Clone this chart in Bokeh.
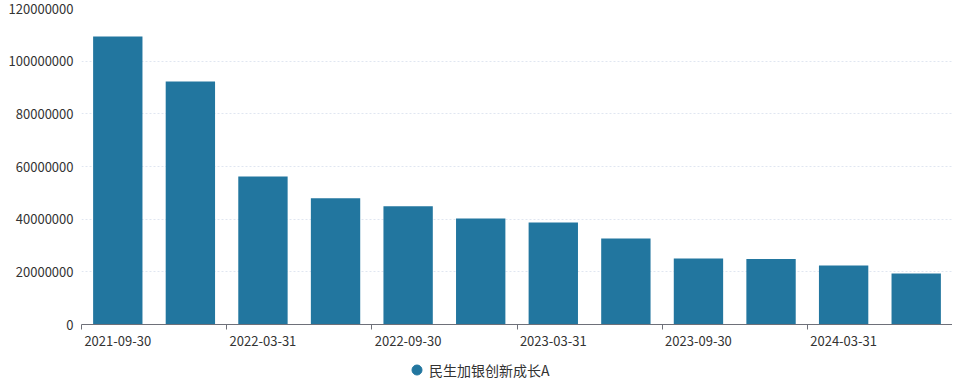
from bokeh.plotting import figure
from bokeh.layouts import column
from bokeh.models import FixedTicker, BasicTickFormatter, Range1d, Legend, LegendItem, ColumnDataSource
from bokeh.embed import file_html
from bokeh.resources import INLINE

dates = ["2021-09-30", "2021-12-31", "2022-03-31", "2022-06-30", "2022-09-30", "2022-12-31",
         "2023-03-31", "2023-06-30", "2023-09-30", "2023-12-31", "2024-03-31", "2024-06-30"]
values = [109400000, 92300000, 56200000, 47900000, 44900000, 40300000,
          38700000, 32700000, 25100000, 24900000, 22400000, 19400000]
series_name = "民生加银创新成长A"
y_ticks = [0, 20000000, 40000000, 60000000, 80000000, 100000000, 120000000]

FONT = "Noto Sans CJK SC"
BAR = "#22769F"
W = 952

xs = list(range(len(dates)))
src = ColumnDataSource(dict(x=xs, top=values))

p = figure(width=W, height=348, output_backend="svg", toolbar_location=None,
           x_range=Range1d(-0.5, len(dates) - 0.5), y_range=Range1d(0, 120000000),
           min_border_left=81, min_border_right=0, min_border_top=8, min_border_bottom=24)
p.outline_line_color = None

p.vbar(x="x", top="top", width=0.68, source=src, fill_color=BAR, line_color=None)

# x axis
label_ticks = xs[::2]
xa = p.xaxis[0]
xa.ticker = FixedTicker(ticks=label_ticks, minor_ticks=[i - 0.5 for i in xs[::2]] + [len(dates) - 0.5])
xa.major_label_overrides = {i: dates[i] for i in label_ticks}
xa.major_tick_line_color = None
xa.major_tick_out = 0
xa.major_tick_in = 0
xa.minor_tick_line_color = "#6E7079"
xa.minor_tick_out = 5
xa.minor_tick_in = 0
xa.axis_line_color = "#6E7079"
xa.major_label_text_font = FONT
xa.major_label_text_font_size = "13px"
xa.major_label_text_color = "#333333"
xa.major_label_standoff = 6

# y axis
ya = p.yaxis[0]
ya.ticker = FixedTicker(ticks=y_ticks)
ya.formatter = BasicTickFormatter(use_scientific=False)
ya.axis_line_color = None
ya.major_tick_line_color = None
ya.major_tick_out = 0
ya.minor_tick_line_color = None
ya.major_label_text_font = FONT
ya.major_label_text_font_size = "13px"
ya.major_label_text_color = "#333333"
ya.major_label_standoff = 8

p.xgrid.grid_line_color = None
p.ygrid.grid_line_color = "#E0E6F1"
p.ygrid.grid_line_dash = "2 2"

# legend strip below the chart
lg = figure(width=W, height=34, output_backend="svg", toolbar_location=None,
            x_range=Range1d(0, 1), y_range=Range1d(0, 1),
            min_border_left=0, min_border_right=0, min_border_top=0, min_border_bottom=0)
lg.axis.visible = False
lg.grid.visible = False
lg.outline_line_color = None
dummy = lg.scatter(x=[0.5], y=[0.5], marker="circle", size=0, fill_color=BAR, line_color=BAR)
legend = Legend(items=[LegendItem(label=series_name, renderers=[dummy])],
                orientation="horizontal", location=(323, 0),
                label_text_font=FONT, label_text_font_size="14px", label_text_color="#333333",
                glyph_width=25, glyph_height=25, label_standoff=-3, border_line_color=None,
                background_fill_alpha=0, margin=0, padding=0, spacing=0)
lg.add_layout(legend, "center")

open("out.html", "w").write(file_html(column(p, lg, spacing=0), INLINE))
